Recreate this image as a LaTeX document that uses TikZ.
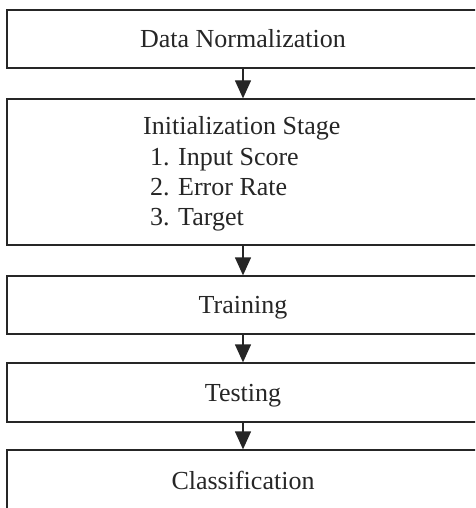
\documentclass[tikz,border=0pt]{standalone}
\usepackage{fontspec}
\setmainfont{Liberation Serif}
\usetikzlibrary{arrows.meta}
\begin{document}
\begin{tikzpicture}[x=1pt,y=1pt,
  stagebox/.style={draw=black!85,line width=1.3pt,rectangle,inner sep=0pt,
    minimum width=472pt,font=\fontsize{26}{30}\selectfont,text=black!85,
    text height=17pt,text depth=0pt},
  txt/.style={inner sep=0pt,anchor=base west,font=\fontsize{26}{30}\selectfont,text=black!85},
  flow/.style={draw=black!85,line width=1.3pt,-{Triangle[width=16pt,length=18pt]}}]
\path[use as bounding box,clip] (0,0) rectangle (475,-508);
\fill[white] (0,0) rectangle (475,-508);
\node[stagebox,minimum height=58pt] (norm) at (243,-39) {Data Normalization};
\node[stagebox,minimum height=146pt] (init) at (243,-172) {};
\node[txt] (t0) at (143,-135) {Initialization Stage};
\node[txt] (t1) at (150,-165) {\makebox[28pt][l]{1.}Input Score};
\node[txt] (t2) at (150,-195) {\makebox[28pt][l]{2.}Error Rate};
\node[txt] (t3) at (150,-225) {\makebox[28pt][l]{3.}Target};
\node[stagebox,minimum height=58pt] (train) at (243,-305) {Training};
\node[stagebox,minimum height=59pt] (test) at (243,-392.5) {Testing};
\node[stagebox,minimum height=62pt] (class) at (243,-481) {Classification};
\draw[flow] (norm.south) -- (init.north);
\draw[flow] (init.south) -- (train.north);
\draw[flow] (train.south) -- (test.north);
\draw[flow] (test.south) -- (class.north);
\end{tikzpicture}
\end{document}
